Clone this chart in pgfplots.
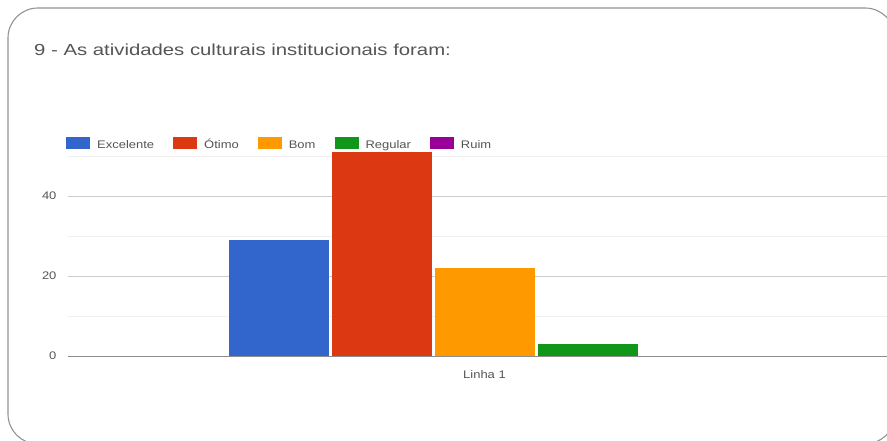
\documentclass[border=0pt]{standalone}
\usepackage{pgfplots}
\pgfplotsset{compat=1.18}
\usepackage{fontspec}
\setmainfont{Liberation Sans}
\definecolor{cBlue}{HTML}{3366CC}
\definecolor{cRed}{HTML}{DC3912}
\definecolor{cOrange}{HTML}{FF9900}
\definecolor{cGreen}{HTML}{109618}
\definecolor{cPurple}{HTML}{990099}
\definecolor{txt}{HTML}{555555}
\newcommand{\wx}[1]{\scalebox{1.18}[1]{#1}}
\begin{document}
\begin{tikzpicture}[x=1pt,y=1pt]
\useasboundingbox (0,0) rectangle (887,440);
\begin{scope}
\clip (0,0) rectangle (887,440);
\fill[white] (0,0) rectangle (887,440);
\draw[gray!85, line width=1.1pt, rounded corners=30pt] (8,432) rectangle (895,-4);
\end{scope}
\node[anchor=west, inner sep=0pt, text=txt, font=\fontsize{16}{18}\selectfont] at (34,390) {\scalebox{1.27}[1]{9 - As atividades culturais institucionais foram:}};
\begin{axis}[
  at={(68pt,84pt)}, anchor=south west,
  scale only axis, width=819pt, height=220pt,
  xmin=68, xmax=887, ymin=0, ymax=55,
  axis line style={draw=none},
  ytick={0,20,40}, minor ytick={10,30,50},
  ymajorgrids, yminorgrids,
  major grid style={draw=gray!40, line width=0.8pt},
  minor grid style={draw=gray!12, line width=0.8pt},
  major tick length=0pt, minor tick length=0pt,
  xtick={484.5}, xticklabels={\wx{Linha 1}},
  /pgf/number format/assume math mode=true,
  tick label style={text=txt, font=\fontsize{11}{13}\selectfont},
  yticklabel={\wx{\pgfmathprintnumber{\tick}}},
  yticklabel style={xshift=-8pt},
  xticklabel style={yshift=-11pt},
  ybar, bar width=100, bar shift=0pt,
  clip=false,
  legend columns=5,
  legend style={at={(-5pt,211pt)}, anchor=west, draw=none, fill=none,
    font=\fontsize{11}{13}\selectfont, text=txt,
    nodes={text height=8pt, text depth=2pt},
    /tikz/every odd column/.append style={column sep=5pt},
    /tikz/every even column/.append style={column sep=17pt}},
  legend image code/.code={\fill[#1] (0pt,-4pt) rectangle (24pt,8pt);},
]
\addplot[fill=cBlue, draw=none] coordinates {(279,29)};
\addplot[fill=cRed, draw=none] coordinates {(382,51)};
\addplot[fill=cOrange, draw=none] coordinates {(484.5,22)};
\addplot[fill=cGreen, draw=none] coordinates {(587.5,3)};
\addplot[fill=cPurple, draw=none] coordinates {(690,0)};
\legend{\wx{Excelente},\wx{Ótimo},\wx{Bom},\wx{Regular},\wx{Ruim}}
\draw[gray!90, line width=1pt] (axis cs:68,0) -- (axis cs:887,0);
\end{axis}
\end{tikzpicture}
\end{document}
